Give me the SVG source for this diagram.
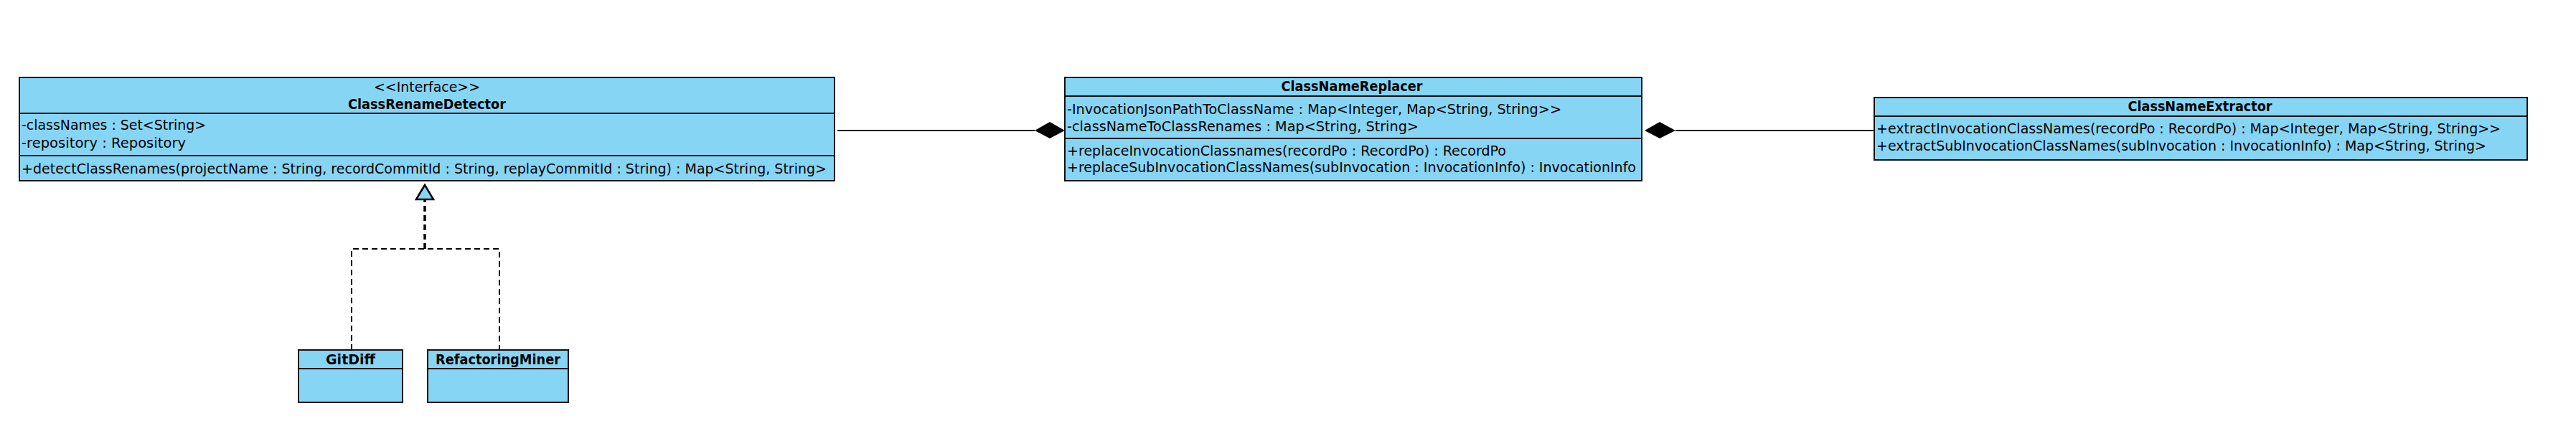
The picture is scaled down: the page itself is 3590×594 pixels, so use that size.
<svg xmlns="http://www.w3.org/2000/svg" width="3590" height="594" viewBox="0 0 3590 594">
<style>
.box{fill:#87d5f5;stroke:#111;stroke-width:2}
.sep{stroke:#111;stroke-width:2}
text{font-family:"DejaVu Sans","Liberation Sans",sans-serif;font-size:20px;fill:#000}
.t{font-weight:bold;text-anchor:middle}
.c{text-anchor:middle}
.ln{stroke:#000;stroke-width:2;fill:none}
.dash{stroke:#000;stroke-width:2;fill:none;stroke-dasharray:8,5}
</style>
<g id="connectors">
<line class="ln" x1="1167" y1="182" x2="1442" y2="182"/>
<polygon points="1442,182 1463,170 1484,182 1463,193" fill="#000"/>
<line class="ln" x1="2335" y1="182" x2="2612" y2="182"/>
<polygon points="2292,182 2313,170 2335,182 2313,193" fill="#000"/>
<polyline class="dash" points="490,488 490,347 696,347 696,488"/>
<line class="dash" x1="592" y1="347" x2="592" y2="279" style="stroke-width:3.5"/>
<polygon points="592,258 580,278 604,278" fill="#87d5f5" stroke="#000" stroke-width="2.5"/>
</g>
<g id="ClassRenameDetector">
<rect class="box" x="27" y="108" width="1136" height="144"/>
<line class="sep" x1="27" y1="158" x2="1163" y2="158"/>
<line class="sep" x1="27" y1="217" x2="1163" y2="217"/>
<text class="c" x="595" y="128" textLength="148" lengthAdjust="spacingAndGlyphs">&lt;&lt;Interface&gt;&gt;</text>
<text class="t" x="595" y="152" textLength="220" lengthAdjust="spacingAndGlyphs">ClassRenameDetector</text>
<text x="30" y="181" textLength="257" lengthAdjust="spacingAndGlyphs">-classNames : Set&lt;String&gt;</text>
<text x="30" y="206" textLength="229" lengthAdjust="spacingAndGlyphs">-repository : Repository</text>
<text x="30" y="242" textLength="1122" lengthAdjust="spacingAndGlyphs">+detectClassRenames(projectName : String, recordCommitId : String, replayCommitId : String) : Map&lt;String, String&gt;</text>
</g>
<g id="ClassNameReplacer">
<rect class="box" x="1484" y="108" width="804" height="144"/>
<line class="sep" x1="1484" y1="134" x2="2288" y2="134"/>
<line class="sep" x1="1484" y1="193" x2="2288" y2="193"/>
<text class="t" x="1884" y="127" textLength="197" lengthAdjust="spacingAndGlyphs">ClassNameReplacer</text>
<text x="1487" y="159" textLength="689" lengthAdjust="spacingAndGlyphs">-InvocationJsonPathToClassName : Map&lt;Integer, Map&lt;String, String&gt;&gt;</text>
<text x="1487" y="183" textLength="490" lengthAdjust="spacingAndGlyphs">-classNameToClassRenames : Map&lt;String, String&gt;</text>
<text x="1487" y="217" textLength="612" lengthAdjust="spacingAndGlyphs">+replaceInvocationClassnames(recordPo : RecordPo) : RecordPo</text>
<text x="1487" y="240" textLength="793" lengthAdjust="spacingAndGlyphs">+replaceSubInvocationClassNames(subInvocation : InvocationInfo) : InvocationInfo</text>
</g>
<g id="ClassNameExtractor">
<rect class="box" x="2612" y="136" width="910" height="87"/>
<line class="sep" x1="2612" y1="162" x2="3522" y2="162"/>
<text class="t" x="3066" y="155" textLength="201" lengthAdjust="spacingAndGlyphs">ClassNameExtractor</text>
<text x="2615" y="186" textLength="870" lengthAdjust="spacingAndGlyphs">+extractInvocationClassNames(recordPo : RecordPo) : Map&lt;Integer, Map&lt;String, String&gt;&gt;</text>
<text x="2615" y="210" textLength="850" lengthAdjust="spacingAndGlyphs">+extractSubInvocationClassNames(subInvocation : InvocationInfo) : Map&lt;String, String&gt;</text>
</g>
<g id="GitDiff">
<rect class="box" x="416" y="488" width="145" height="73"/>
<line class="sep" x1="416" y1="514" x2="561" y2="514"/>
<text class="t" x="488.5" y="508" textLength="69" lengthAdjust="spacingAndGlyphs">GitDiff</text>
</g>
<g id="RefactoringMiner">
<rect class="box" x="596" y="488" width="196" height="73"/>
<line class="sep" x1="596" y1="514" x2="792" y2="514"/>
<text class="t" x="694" y="508" textLength="174" lengthAdjust="spacingAndGlyphs">RefactoringMiner</text>
</g>
</svg>
